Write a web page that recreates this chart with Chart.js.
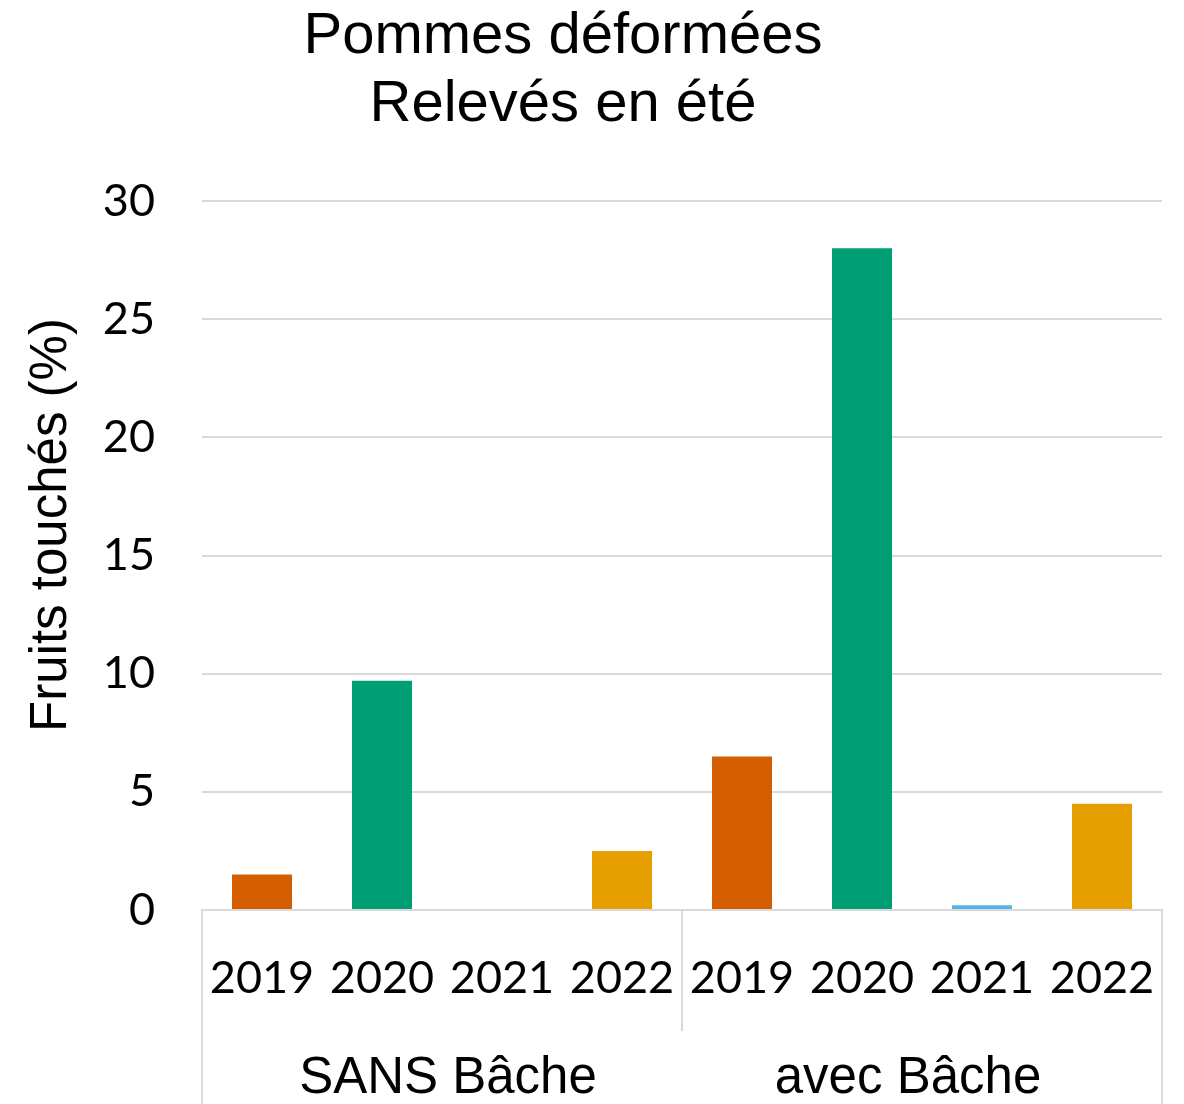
<!DOCTYPE html>
<html>
<head>
<meta charset="utf-8">
<script src="https://cdn.jsdelivr.net/npm/chart.js@4.4.1/dist/chart.umd.min.js"></script>
<style>
  html, body { margin: 0; padding: 0; background: #fff; }
  #wrap { width: 1184px; height: 1104px; }
</style>
</head>
<body>
<div id="wrap"><canvas id="chart" width="1184" height="1104"></canvas></div>
<script>
const years = ['2019', '2020', '2021', '2022'];
const groups = ['SANS Bâche', 'avec Bâche'];
const sansBache = [1.5, 9.7, 0, 2.5];
const avecBache = [6.5, 28, 0.2, 4.5];
const yearColors = ['#D55E00', '#009E73', '#56B4E9', '#E69F00'];
const yTicks = { min: 0, max: 30, step: 5 };

const titleLines = ['Pommes déformées', 'Relevés en été'];
const yTitle = 'Fruits touchés (%)';

const gridColor = '#d9d9d9';
const arial = "'Liberation Sans', Arial, sans-serif";
const calibri = "Lato, 'Open Sans', sans-serif";

// one bar per (group, year), laid out group after group
const labels = groups.flatMap(() => years);
const values = [...sansBache, ...avecBache];
const colors = groups.flatMap(() => yearColors);

// title, separators and group names under the year labels, rotated y title
const decorations = {
  id: 'decorations',
  afterDraw(chart) {
    const { ctx, scales: { x }, chartArea } = chart;
    const bottom = chart.height;
    const per = years.length;
    ctx.save();

    ctx.fillStyle = '#000';
    ctx.textAlign = 'center';
    ctx.textBaseline = 'alphabetic';
    ctx.font = '58px ' + arial;
    titleLines.forEach((line, i) => ctx.fillText(line, 563, 53 + i * 68));

    ctx.strokeStyle = gridColor;
    ctx.lineWidth = 2;
    const edges = [];
    for (let g = 0; g <= groups.length; g++) {
      let px;
      if (g === 0) px = x.left;
      else if (g === groups.length) px = x.right;
      else px = (x.getPixelForValue(g * per - 1) + x.getPixelForValue(g * per)) / 2;
      edges.push(px);
      const isOuter = g === 0 || g === groups.length;
      ctx.beginPath();
      ctx.moveTo(px, chartArea.bottom);
      ctx.lineTo(px, isOuter ? bottom : chartArea.bottom + 121);
      ctx.stroke();
    }

    ctx.font = '51px ' + arial;
    const nudge = [6, -14];
    groups.forEach((name, g) => {
      ctx.fillText(name, (edges[g] + edges[g + 1]) / 2 + nudge[g], 1093);
    });

    ctx.translate(52, 525);
    ctx.rotate(-Math.PI / 2);
    ctx.textBaseline = 'middle';
    ctx.font = '51px ' + arial;
    ctx.fillText(yTitle, 0, 0);
    ctx.restore();
  }
};

new Chart(document.getElementById('chart'), {
  type: 'bar',
  data: {
    labels: labels,
    datasets: [{
      data: values,
      backgroundColor: colors,
      borderWidth: 0,
      barPercentage: 0.5,
      categoryPercentage: 1.0
    }]
  },
  options: {
    responsive: false,
    animation: false,
    layout: { padding: { top: 201, right: 22, bottom: 0, left: 0 } },
    plugins: {
      legend: { display: false },
      tooltip: { enabled: false },
      title: { display: false }
    },
    scales: {
      x: {
        grid: { display: false },
        border: { color: gridColor, width: 2 },
        ticks: {
          color: '#000',
          font: { family: calibri, size: 45 },
          padding: 33,
          maxRotation: 0,
          autoSkip: false
        },
        afterFit(scale) {
          scale.height = 194;
          scale.paddingLeft = 0;
          scale.paddingRight = 0;
        }
      },
      y: {
        min: yTicks.min,
        max: yTicks.max,
        grid: { color: gridColor, lineWidth: 2, drawTicks: false },
        border: { display: false },
        ticks: {
          stepSize: yTicks.step,
          color: '#000',
          font: { family: calibri, size: 45 },
          padding: 47
        },
        afterFit(scale) { scale.width = 202; }
      }
    }
  },
  plugins: [decorations]
});
</script>
</body>
</html>
